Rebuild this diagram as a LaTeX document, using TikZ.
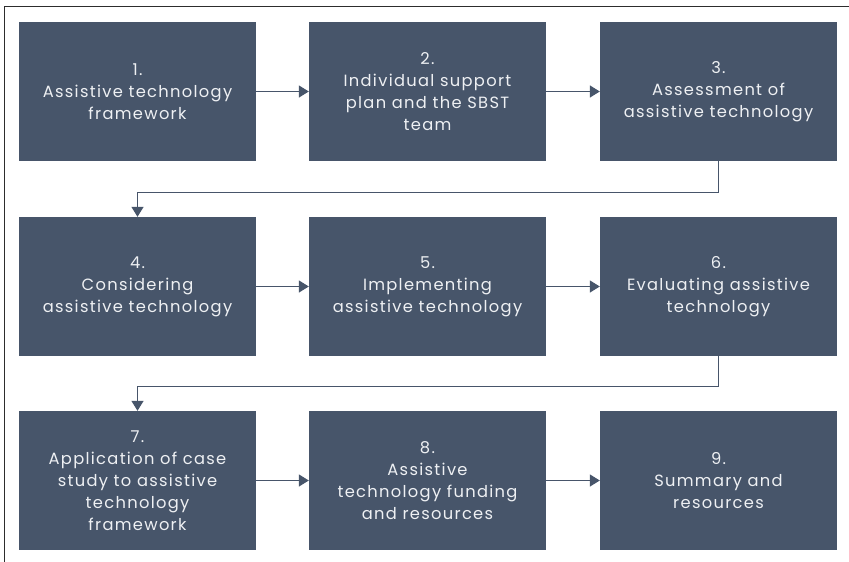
\documentclass[tikz,border=0pt]{standalone}
\usepackage{fontspec}
\setmainfont{Poppins}[LetterSpace=8]
\usetikzlibrary{arrows.meta}
\definecolor{boxfill}{RGB}{71,85,106}
\definecolor{boxtext}{RGB}{238,240,243}
\definecolor{frame}{RGB}{45,45,45}
\tikzset{
  stepbox/.style={fill=boxfill, draw=none, minimum width=237pt, minimum height=139pt,
    inner sep=0pt, align=center, text=boxtext, font=\fontsize{16.3}{22}\selectfont},
  flow/.style={draw=boxfill, line width=1.4pt, -{Triangle[length=10pt,width=12pt]}}
}
\begin{document}
\begin{tikzpicture}[x=1pt,y=-1pt]
\useasboundingbox (0,0) rectangle (849,562);
\draw[frame, line width=1pt] (4.5,562) -- (4.5,6.5) -- (849,6.5);
\node[stepbox] (b1) at (137.5,91.5) {1.\\Assistive technology\\framework};
\node[stepbox] (b2) at (427.5,91.5) {2.\\Individual support\\plan and the SBST\\team};
\node[stepbox] (b3) at (718.5,91.5) {3.\\Assessment of\\assistive technology};
\node[stepbox] (b4) at (137.5,286.5) {4.\\Considering\\assistive technology};
\node[stepbox] (b5) at (427.5,286.5) {5.\\Implementing\\assistive technology};
\node[stepbox] (b6) at (718.5,286.5) {6.\\Evaluating assistive\\technology};
\node[stepbox] (b7) at (137.5,480.5) {7.\\Application of case\\study to assistive\\technology\\framework};
\node[stepbox] (b8) at (427.5,480.5) {8.\\Assistive\\technology funding\\and resources};
\node[stepbox] (b9) at (718.5,480.5) {9.\\Summary and\\resources};
\draw[flow] (b1) -- (b2);
\draw[flow] (b2) -- (b3);
\draw[flow] (b4) -- (b5);
\draw[flow] (b5) -- (b6);
\draw[flow] (b7) -- (b8);
\draw[flow] (b8) -- (b9);
\draw[flow] (b3.south) -- ++(0,31) -| (b4.north);
\draw[flow] (b6.south) -- ++(0,30) -| (b7.north);
\end{tikzpicture}
\end{document}
